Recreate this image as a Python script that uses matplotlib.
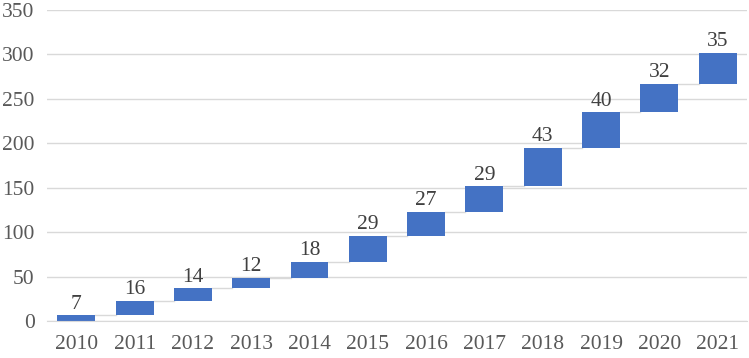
import matplotlib
matplotlib.use("Agg")
import matplotlib.pyplot as plt
import numpy as np

years = ["2010", "2011", "2012", "2013", "2014", "2015", "2016", "2017", "2018", "2019", "2020", "2021"]
increments = [7, 16, 14, 12, 18, 29, 27, 29, 43, 40, 32, 35]
yticks = [0, 50, 100, 150, 200, 250, 300, 350]

plt.rcParams['font.family'] = ['Liberation Serif', 'DejaVu Serif']

inc = np.array(increments, dtype=float)
tops = np.cumsum(inc)
bottoms = tops - inc
x = np.arange(len(years))
w = 0.65

fig = plt.figure(figsize=(7.49, 3.58), dpi=100)
ax = fig.add_axes([0.063, 0.103, 0.934, 0.869])

ax.set_ylim(0, 350)
ax.set_xlim(-0.5, len(years) - 0.5)
ax.set_yticks(yticks)
ax.grid(axis='y', color='#d9d9d9', linewidth=1)
ax.set_axisbelow(True)

# connectors
for i in range(len(years) - 1):
    ax.plot([x[i] + w / 2, x[i + 1] - w / 2], [tops[i], tops[i]], color='#d9d9d9', linewidth=1, zorder=1)

ax.bar(x, inc, bottom=bottoms, width=w, color='#4472C4', zorder=2)

for i in range(len(years)):
    ax.text(x[i], tops[i] + 1.5, str(increments[i]), ha='center', va='bottom', fontsize=15.5, color='#404040')

ax.set_xticks(x)
ax.set_xticklabels(years)
ax.tick_params(axis='both', length=0, labelsize=15.5, colors='#595959')
ax.tick_params(axis='x', pad=10)
ax.tick_params(axis='y', pad=9)
for s in ['left', 'right', 'top']:
    ax.spines[s].set_visible(False)
ax.spines['bottom'].set_color('#d9d9d9')

fig.savefig("out.png", dpi=100)
